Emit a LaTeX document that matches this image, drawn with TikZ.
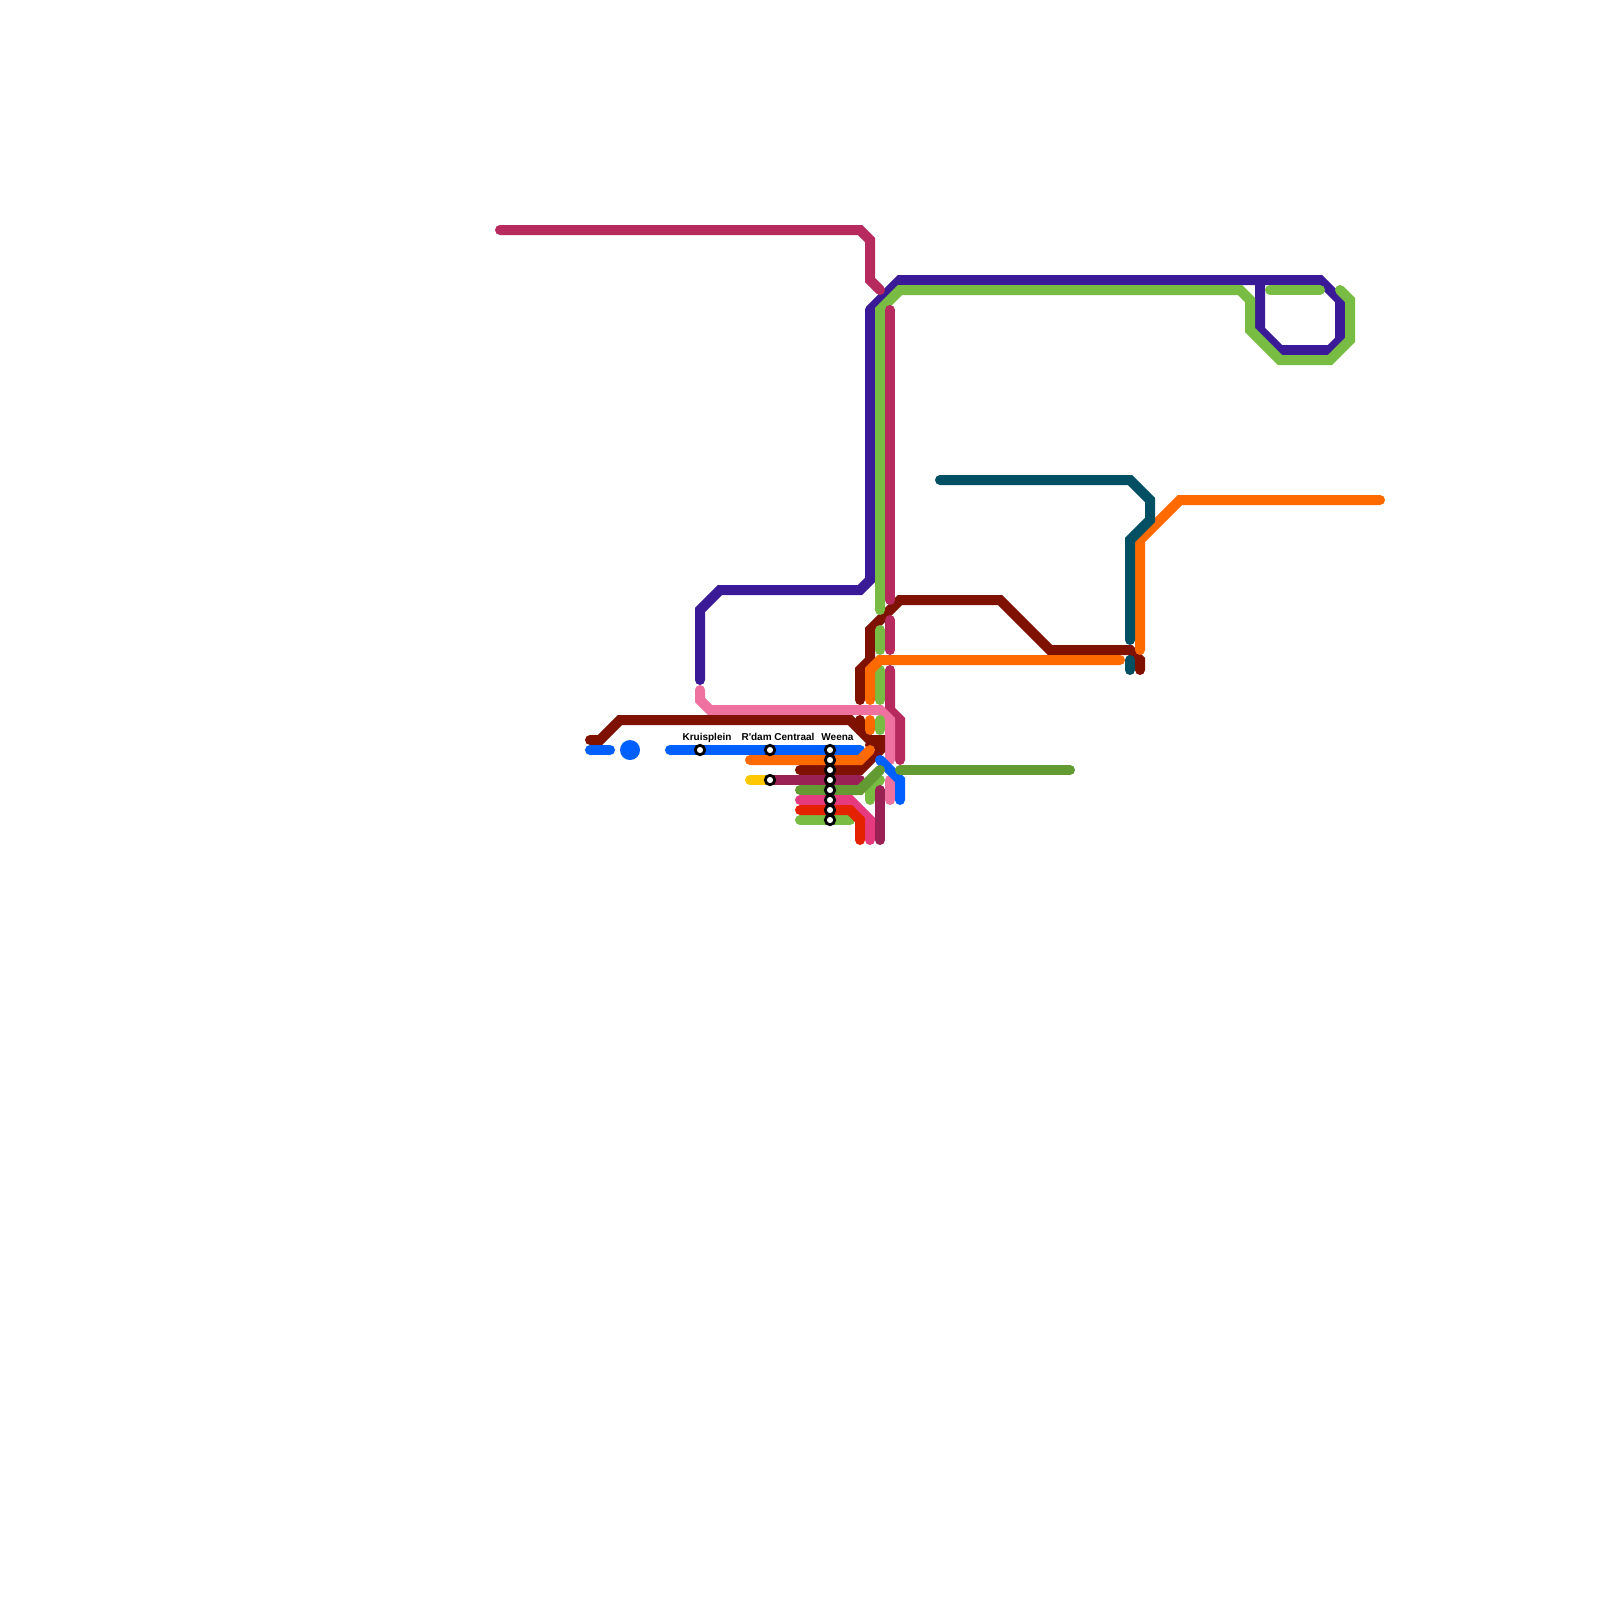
\documentclass[tikz,border=0pt]{standalone}
\usepackage{fontspec}
\setmainfont{Liberation Sans}
\usepackage{tikz}
\definecolor{lineviolet}{HTML}{3A1A96}
\definecolor{linegreen}{HTML}{78BC43}
\definecolor{linerose}{HTML}{B72A5E}
\definecolor{lineteal}{HTML}{004F63}
\definecolor{lineorange}{HTML}{FF6A00}
\definecolor{linemaroon}{HTML}{7F1100}
\definecolor{lineblue}{HTML}{0060FF}
\definecolor{linepink}{HTML}{EF71A0}
\definecolor{linehot}{HTML}{E63A7F}
\definecolor{linered}{HTML}{E52200}
\definecolor{lineplum}{HTML}{9A2154}
\definecolor{lineolive}{HTML}{649A32}
\definecolor{lineyellow}{HTML}{FFC800}
\tikzset{
  metro/.style={line width=10pt,line cap=round,line join=miter},
  halt/.style={circle,draw=black,fill=white,line width=2.8pt,minimum size=9.4pt,inner sep=0pt},
  haltlabel/.style={font=\fontsize{10}{12}\selectfont\bfseries,inner sep=0pt,anchor=base}
}
\begin{document}
\begin{tikzpicture}[x=1pt,y=-1pt]
\useasboundingbox (0,0) rectangle (1600,1600);
% long lines in the north
\draw[metro,lineviolet] (870,310) -- (900,280) -- (1320,280) -- (1340,300) -- (1340,340) -- (1330,350) -- (1280,350) -- (1260,330) -- (1260,285);
\draw[metro,lineviolet] (870,310) -- (870,580) -- (860,590) -- (720,590) -- (700,610) -- (700,680);
\draw[metro,linemaroon] (860,700) -- (860,670) -- (870,660) -- (870,630) -- (900,600) -- (1000,600) -- (1050,650) -- (1130,650) -- (1140,660) -- (1140,670);
\draw[metro,linegreen] (880,610) -- (880,310) -- (900,290) -- (1240,290) -- (1250,300) -- (1250,330) -- (1280,360) -- (1330,360) -- (1350,340) -- (1350,300) -- (1340,290);
\draw[metro,linegreen] (1270,290) -- (1320,290);
\draw[metro,linerose] (500,230) -- (860,230) -- (870,240) -- (870,280) -- (880,290);
\draw[metro,linerose] (890,310) -- (890,600);
% eastern branches
\draw[metro,lineorange] (1140,650) -- (1140,540) -- (1180,500) -- (1380,500);
\draw[metro,lineteal] (940,480) -- (1130,480) -- (1150,500) -- (1150,520) -- (1130,540) -- (1130,640);
\draw[metro,lineteal] (1130,660) -- (1130,670);
\draw[metro,linegreen] (880,630) -- (880,650);
\draw[metro,linegreen] (880,670) -- (880,700);
\draw[metro,lineorange] (1120,660) -- (880,660) -- (870,670) -- (870,700);
\draw[metro,linerose] (890,620) -- (890,650);
% centre bundle
\draw[metro,linerose] (890,670) -- (890,710) -- (900,720) -- (900,760);
\draw[metro,linepink] (700,690) -- (700,700) -- (710,710) -- (880,710) -- (890,720) -- (890,760);
\draw[metro,linepink] (890,780) -- (890,800);
\draw[metro,linemaroon] (590,740) -- (600,740) -- (620,720) -- (850,720) -- (870,740) -- (880,740) -- (880,750) -- (860,770) -- (800,770);
\draw[metro,linemaroon] (860,720) -- (860,730);
\draw[metro,linemaroon] (870,745) -- (880,745);
\draw[metro,lineorange] (870,720) -- (870,730);
\draw[metro,linegreen] (880,720) -- (880,730);
\draw[metro,lineblue] (590,750) -- (610,750);
\fill[lineblue] (630,750) circle (10);
\draw[metro,lineblue] (670,750) -- (860,750);
\draw[metro,lineorange] (750,760) -- (860,760) -- (870,750);
\draw[metro,lineblue] (880,760) -- (900,780) -- (900,800);
\draw[metro,lineyellow] (750,780) -- (770,780);
\draw[metro,lineplum] (770,780) -- (860,780);
\draw[metro,linegreen] (870,800) -- (870,790) -- (880,780);
\draw[metro,lineolive] (800,790) -- (860,790) -- (880,770);
\draw[metro,lineolive] (900,770) -- (1070,770);
\draw[metro,linegreen] (800,820) -- (850,820);
\draw[metro,linehot] (800,800) -- (850,800) -- (870,820) -- (870,840);
\draw[metro,linered] (800,810) -- (850,810) -- (860,820) -- (860,840);
\draw[metro,lineplum] (880,790) -- (880,840);
% stations
\node[halt] (kruisplein) at (700,750) {};
\node[halt] (centraal) at (770,750) {};
\node[halt] (centraal2) at (770,780) {};
\foreach \i/\yy in {1/750,2/760,3/770,4/780,5/790,6/800,7/810,8/820}
  \node[halt] (weena\i) at (830,\yy) {};
\node[haltlabel] (kruisLabel) at (707,740) {Kruisplein};
\node[haltlabel] (centraalLabel) at (778,740) {R\textquotesingle dam Centraal};
\node[haltlabel] (weenaLabel) at (837.5,740) {Weena};
\end{tikzpicture}
\end{document}
